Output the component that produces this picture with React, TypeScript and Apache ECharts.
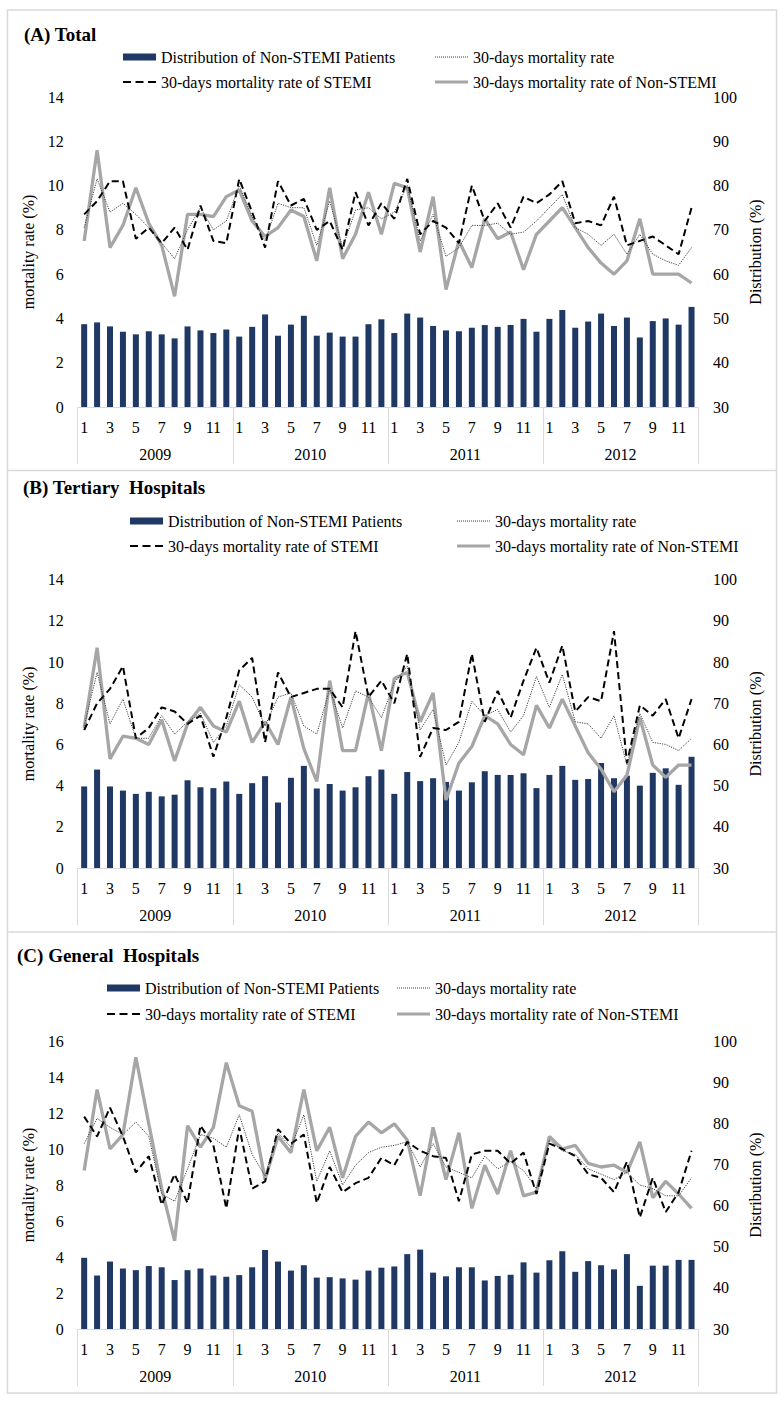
import React, { useEffect, useRef } from 'react';
import * as echarts from 'echarts';

const years = ['2009', '2010', '2011', '2012'];
const monthLabels = ['1', '2', '3', '4', '5', '6', '7', '8', '9', '10', '11', '12'];
const categories = years.flatMap(() => monthLabels);

const NAME_DIST = 'Distribution of Non-STEMI Patients';
const NAME_TOTAL = '30-days mortality rate';
const NAME_STEMI = '30-days mortality rate of STEMI';
const NAME_NON = '30-days mortality rate of Non-STEMI';

// (A) Total
const distA = [
  48.7, 49.1, 48.2, 47.0, 46.4, 47.1, 46.4, 45.5, 48.2, 47.3, 46.7, 47.5,
  45.9, 48.1, 50.9, 46.1, 48.6, 50.6, 46.1, 46.8, 45.9, 45.9, 48.7, 49.8,
  46.7, 51.1, 50.2, 48.3, 47.3, 47.1, 47.9, 48.5, 48.1, 48.5, 49.9, 47.0,
  49.9, 51.9, 47.9, 49.3, 51.1, 48.3, 50.2, 45.7, 49.4, 50.0, 48.6, 52.6,
];
const totalA = [
  8.1, 10.3, 8.8, 9.2, 8.7, 8.1, 7.4, 6.7, 8.0, 9.0, 8.0, 8.4,
  10.0, 8.6, 7.5, 9.2, 9.0, 9.0, 7.3, 9.3, 7.2, 8.9, 9.0, 8.5,
  8.8, 10.0, 7.5, 8.7, 6.8, 7.2, 8.2, 8.2, 8.3, 7.8, 7.9, 8.4,
  9.0, 9.6, 8.1, 7.8, 7.3, 7.8, 6.9, 7.8, 6.9, 6.6, 6.4, 7.2,
];
const stemiA = [
  8.7, 9.3, 10.2, 10.2, 7.6, 8.1, 7.4, 8.1, 7.1, 9.1, 7.5, 7.4,
  10.3, 8.8, 7.2, 10.2, 9.1, 9.4, 8.0, 8.4, 7.1, 9.7, 8.2, 9.2,
  8.5, 10.3, 7.8, 8.4, 8.1, 7.4, 10.0, 8.4, 9.2, 8.1, 9.5, 9.2,
  9.6, 10.2, 8.3, 8.4, 8.2, 9.5, 7.3, 7.5, 7.7, 7.3, 6.9, 9.0,
];
const nonA = [
  7.5, 11.6, 7.2, 8.2, 9.9, 8.3, 7.3, 5.0, 8.7, 8.7, 8.6, 9.5,
  9.8, 8.4, 7.7, 8.1, 8.9, 8.6, 6.6, 9.9, 6.7, 7.8, 9.7, 7.8,
  10.1, 9.9, 7.0, 9.5, 5.3, 7.5, 6.3, 8.5, 7.6, 7.9, 6.2, 7.8,
  8.4, 9.0, 8.1, 7.2, 6.5, 6.0, 6.6, 8.5, 6.0, 6.0, 6.0, 5.6,
];

// (B) Tertiary Hospitals
const distB = [
  49.8, 53.9, 49.8, 48.8, 48.0, 48.5, 47.4, 47.8, 51.3, 49.6, 49.4, 51.0,
  48.0, 50.6, 52.3, 45.9, 51.9, 54.8, 49.3, 50.4, 48.8, 49.6, 52.3, 53.9,
  48.0, 53.3, 51.1, 51.8, 50.9, 48.8, 50.8, 53.5, 52.6, 52.6, 53.0, 49.4,
  52.6, 54.8, 51.4, 51.6, 55.5, 51.8, 52.4, 50.0, 53.1, 54.2, 50.2, 57.0,
];
const totalB = [
  6.9, 9.5, 7.0, 8.2, 6.3, 6.3, 7.4, 6.5, 7.1, 7.5, 6.1, 6.9,
  8.9, 8.3, 6.9, 8.3, 8.5, 6.9, 6.5, 8.7, 6.8, 8.6, 8.3, 7.3,
  9.0, 9.8, 6.7, 7.7, 5.0, 6.1, 8.1, 7.4, 7.7, 6.6, 7.4, 9.3,
  7.8, 9.4, 7.1, 7.0, 6.3, 7.4, 5.0, 7.5, 6.1, 6.0, 5.7, 6.3,
];
const stemiB = [
  6.7, 8.0, 8.7, 9.8, 6.3, 6.8, 7.8, 7.6, 7.0, 7.4, 5.4, 7.3,
  9.6, 10.2, 6.1, 9.5, 8.3, 8.5, 8.7, 8.7, 7.8, 11.5, 8.3, 9.1,
  8.0, 10.4, 5.4, 6.8, 6.7, 7.1, 10.4, 7.1, 8.6, 7.3, 9.1, 10.7,
  9.0, 10.8, 7.6, 8.3, 8.1, 11.5, 5.1, 7.9, 7.4, 8.2, 6.3, 8.2,
];
const nonB = [
  6.8, 10.7, 5.3, 6.4, 6.3, 6.0, 7.2, 5.2, 7.0, 7.8, 6.9, 6.6,
  8.1, 6.1, 7.1, 6.0, 8.3, 5.8, 4.2, 9.1, 5.7, 5.7, 8.5, 5.7,
  9.2, 9.5, 7.1, 8.5, 3.3, 5.1, 5.9, 7.4, 7.0, 6.0, 5.5, 7.9,
  6.8, 8.2, 6.9, 5.6, 4.8, 3.7, 4.5, 7.3, 5.0, 4.4, 5.0, 5.0,
];

// (C) General Hospitals
const distC = [
  47.3, 43.0, 46.4, 44.7, 44.3, 45.3, 45.0, 41.9, 44.3, 44.7, 43.0, 42.7,
  43.1, 45.0, 49.2, 46.4, 44.2, 45.5, 42.5, 42.6, 42.3, 42.0, 44.2, 44.9,
  45.2, 48.2, 49.3, 43.7, 42.8, 45.0, 45.0, 41.8, 42.9, 43.2, 46.2, 43.7,
  46.7, 48.9, 43.9, 46.5, 45.5, 44.5, 48.2, 40.5, 45.4, 45.4, 46.8, 46.8,
];
const totalC = [
  10.3, 11.7, 11.2, 10.8, 11.5, 10.7, 7.5, 7.1, 8.9, 10.8, 10.6, 10.1,
  11.9, 9.7, 8.5, 10.9, 10.1, 11.9, 8.2, 9.9, 8.0, 9.1, 9.8, 10.1,
  10.2, 10.4, 9.0, 10.3, 9.0, 8.7, 8.4, 9.6, 8.9, 9.3, 8.8, 7.8,
  10.5, 9.9, 9.7, 8.9, 8.6, 8.3, 8.7, 8.0, 7.8, 7.4, 7.4, 8.4,
];
const stemiC = [
  11.8, 10.7, 12.3, 10.7, 8.7, 9.6, 6.9, 8.6, 7.0, 11.3, 10.2, 6.7,
  11.2, 7.8, 8.2, 11.1, 10.3, 10.8, 7.0, 9.0, 7.6, 8.1, 8.4, 9.5,
  9.1, 10.4, 9.9, 9.6, 9.5, 7.1, 9.7, 9.9, 9.9, 9.2, 9.8, 7.5,
  10.3, 10.0, 9.6, 8.6, 8.4, 7.6, 9.3, 6.2, 8.4, 6.5, 7.6, 9.9,
];
const nonC = [
  8.8, 13.3, 10.0, 10.8, 15.1, 11.4, 7.8, 4.9, 11.3, 10.1, 11.2, 14.8,
  12.4, 12.1, 8.3, 10.7, 9.8, 13.3, 9.9, 11.2, 8.4, 10.7, 11.5, 10.9,
  11.4, 10.5, 7.4, 11.2, 8.3, 10.9, 6.7, 9.1, 7.5, 9.9, 7.4, 7.6,
  10.7, 10.0, 10.2, 9.2, 9.0, 9.1, 8.7, 10.4, 7.3, 8.2, 7.5, 6.7,
];

const FONT = 'Liberation Serif';
const NAVY = '#1f3864';
const GREY = '#a6a6a6';
const DOT = '#404040';
const FRAME = '#d9d9d9';

// legend icon shapes (style only)
const ICON_DASH = 'path://M0,0h8v2h-8zM12.5,0h8v2h-8zM25,0h8v2h-8z';
const ICON_SOLID = 'path://M0,0h33v3h-33z';
const ICON_DOT = 'path://' + Array.from({ length: 17 }, (_, k) => `M${k * 2},0h1v1h-1z`).join('');

const panels = [
  {
    title: '(A) Total', titleLeft: 24, titleTop: 25,
    gridTop: 97, gridHeight: 310, leftMax: 14,
    legX1: 123, legX2: 435, legY1: 57, legY2: 82,
    dist: distA, total: totalA, stemi: stemiA, non: nonA,
  },
  {
    title: '(B) Tertiary  Hospitals', titleLeft: 23, titleTop: 478,
    gridTop: 579.7, gridHeight: 288.3, leftMax: 14,
    legX1: 130, legX2: 457, legY1: 521, legY2: 546,
    dist: distB, total: totalB, stemi: stemiB, non: nonB,
  },
  {
    title: '(C) General  Hospitals', titleLeft: 17, titleTop: 946,
    gridTop: 1041, gridHeight: 288, leftMax: 16,
    legX1: 107, legX2: 397, legY1: 988, legY2: 1014,
    dist: distC, total: totalC, stemi: stemiC, non: nonC,
  },
];

function buildOption() {
  const textBase = { fontFamily: FONT, fontSize: 16, color: '#000' };
  const grid: any[] = [];
  const xAxis: any[] = [];
  const yAxis: any[] = [];
  const series: any[] = [];
  const title: any[] = [];
  const legend: any[] = [];

  panels.forEach((p, i) => {
    title.push({
      text: p.title, left: p.titleLeft, top: p.titleTop, padding: 0,
      textStyle: { fontFamily: FONT, fontSize: 19, fontWeight: 'bold', color: '#000' },
    });
    grid.push({ left: 77.7, width: 620.3, top: p.gridTop, height: p.gridHeight, containLabel: false });
    xAxis.push({
      type: 'category', gridIndex: i, data: categories, position: 'bottom',
      axisLine: { show: true, lineStyle: { color: FRAME, width: 1 } },
      axisTick: { show: false },
      axisLabel: { ...textBase, interval: 1, margin: 12 },
      splitLine: { show: false },
    });
    xAxis.push({
      type: 'category', gridIndex: i, data: years, position: 'bottom',
      axisLine: { show: false },
      axisTick: { show: true, length: 57, interval: 0, lineStyle: { color: FRAME, width: 1 } },
      axisLabel: { ...textBase, interval: 0, margin: 39 },
      splitLine: { show: false },
    });
    yAxis.push({
      type: 'value', gridIndex: i, position: 'left', min: 0, max: p.leftMax, interval: 2,
      name: 'mortality rate (%)', nameLocation: 'middle', nameGap: 35,
      nameTextStyle: { ...textBase },
      axisLine: { show: false }, axisTick: { show: false }, splitLine: { show: false },
      axisLabel: { ...textBase, margin: 14 },
    });
    yAxis.push({
      type: 'value', gridIndex: i, position: 'right', min: 30, max: 100, interval: 10,
      name: 'Distribution (%)', nameLocation: 'middle', nameGap: 46,
      nameTextStyle: { ...textBase },
      axisLine: { show: false }, axisTick: { show: false }, splitLine: { show: false },
      axisLabel: { ...textBase, margin: 15 },
    });
    const xi = i * 2;
    const yl = i * 2;
    const yr = i * 2 + 1;
    series.push({
      name: NAME_DIST, type: 'bar', xAxisIndex: xi, yAxisIndex: yr, data: p.dist,
      barWidth: 6, itemStyle: { color: NAVY }, z: 1,
    });
    series.push({
      name: NAME_NON, type: 'line', xAxisIndex: xi, yAxisIndex: yl, data: p.non,
      symbol: 'none', lineStyle: { color: GREY, width: 3.3 }, itemStyle: { color: GREY }, z: 2,
    });
    series.push({
      name: NAME_STEMI, type: 'line', xAxisIndex: xi, yAxisIndex: yl, data: p.stemi,
      symbol: 'none', lineStyle: { color: '#000', width: 2, type: [7, 4] }, itemStyle: { color: '#000' }, z: 3,
    });
    series.push({
      name: NAME_TOTAL, type: 'line', xAxisIndex: xi, yAxisIndex: yl, data: p.total,
      symbol: 'none', lineStyle: { color: DOT, width: 1, type: [1.2, 1.2] }, itemStyle: { color: DOT }, z: 4,
    });
    const legBase = {
      selectedMode: false, padding: 0, itemWidth: 33, itemGap: 0,
      textStyle: { ...textBase },
    };
    legend.push({
      ...legBase, left: p.legX1, top: p.legY1 - 8, itemHeight: 7,
      data: [{ name: NAME_DIST, icon: 'rect' }],
    });
    legend.push({
      ...legBase, left: p.legX2, top: p.legY1 - 8, itemHeight: 1,
      data: [{ name: NAME_TOTAL, icon: ICON_DOT, itemStyle: { color: DOT, borderWidth: 0 } }],
    });
    legend.push({
      ...legBase, left: p.legX1, top: p.legY2 - 8, itemHeight: 2,
      data: [{ name: NAME_STEMI, icon: ICON_DASH, itemStyle: { color: '#000', borderWidth: 0 } }],
    });
    legend.push({
      ...legBase, left: p.legX2, top: p.legY2 - 8, itemHeight: 3,
      data: [{ name: NAME_NON, icon: ICON_SOLID, itemStyle: { color: GREY, borderWidth: 0 } }],
    });
  });

  const graphic = [
    {
      type: 'rect', silent: true, z: -10,
      shape: { x: 7.5, y: 10, width: 769, height: 1383 },
      style: { fill: '#fff', stroke: FRAME, lineWidth: 1.5 },
    },
    {
      type: 'line', silent: true,
      shape: { x1: 7.5, y1: 470.5, x2: 776.5, y2: 470.5 },
      style: { stroke: FRAME, lineWidth: 1.5 },
    },
    {
      type: 'line', silent: true,
      shape: { x1: 7.5, y1: 932, x2: 776.5, y2: 932 },
      style: { stroke: FRAME, lineWidth: 1.5 },
    },
  ];

  return {
    animation: false,
    backgroundColor: '#fff',
    textStyle: { fontFamily: FONT },
    title, grid, xAxis, yAxis, series, legend, graphic,
  };
}

export default function App() {
  const ref = useRef<HTMLDivElement>(null);
  useEffect(() => {
    document.body.style.margin = '0';
    const chart = echarts.init(ref.current as HTMLDivElement, null, { renderer: 'svg' });
    chart.setOption(buildOption() as any);
    return () => chart.dispose();
  }, []);
  return <div ref={ref} style={{ width: 784, height: 1405 }} />;
}
